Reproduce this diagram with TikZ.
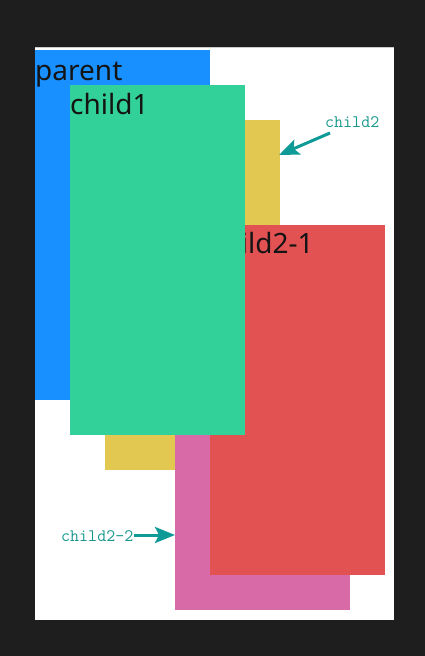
\documentclass[tikz,border=0pt]{standalone}
\usepackage{fontspec}
\newfontfamily\boxfont{Noto Sans}
\usetikzlibrary{arrows.meta}
\definecolor{bgdark}{HTML}{1E1E1E}
\definecolor{blueP}{HTML}{1890FF}
\definecolor{greenC}{HTML}{33D19A}
\definecolor{yellowC}{HTML}{E2C850}
\definecolor{pinkC}{HTML}{D96AA8}
\definecolor{redC}{HTML}{E35252}
\definecolor{tealT}{HTML}{18988E}
\definecolor{tealA}{HTML}{0E9A96}
\tikzset{
  box/.style={draw=none, inner sep=0pt, anchor=north west, minimum width=175pt, minimum height=350pt},
  boxtext/.style={inner sep=0pt, anchor=base west, font=\boxfont\fontsize{28}{32}\selectfont, text=black!92},
  note/.style={inner sep=0pt, font=\ttfamily\fontsize{17.5}{20}\selectfont, text=tealT},
  pointer/.style={draw=tealA, line width=3pt, -{Stealth[length=20pt,width=16pt,inset=4pt]}},
}
\begin{document}
\begin{tikzpicture}[x=1pt,y=-1pt]
\useasboundingbox (0,0) rectangle (425,656);
\fill[bgdark] (0,0) rectangle (425,656);
\fill[white] (35,47) rectangle (394,620);
\draw[black!20, line width=1pt] (35,47.5) -- (394,47.5);
% parent
\node[box, fill=blueP] (parent) at (35,50) {};
\node[boxtext] (parentT) at ([yshift=-30pt]parent.north west) {parent};
% child2
\node[box, fill=yellowC] (child2) at (105,120) {};
% child2-2
\node[box, fill=pinkC] (child22) at (175,260) {};
% child2-1
\node[box, fill=redC] (child21) at (210,225) {};
\node[boxtext] (child21T) at ([yshift=-28pt]child21.north west) {child2-1};
% child1
\node[box, fill=greenC] (child1) at (70,85) {};
\node[boxtext] (child1T) at ([yshift=-29pt]child1.north west) {child1};
% annotations
\node[note, anchor=base west] (n2) at (325,127) {child2};
\coordinate (n2tail) at (330,133);
\coordinate (n2tip) at (279,155);
\draw[pointer] (n2tail) -- (n2tip);
\node[note, anchor=base west] (n22) at (61,541) {child2-2};
\coordinate (n22tip) at (175,535);
\draw[pointer] (n22.east |- n22tip) -- (n22tip);
\end{tikzpicture}
\end{document}
